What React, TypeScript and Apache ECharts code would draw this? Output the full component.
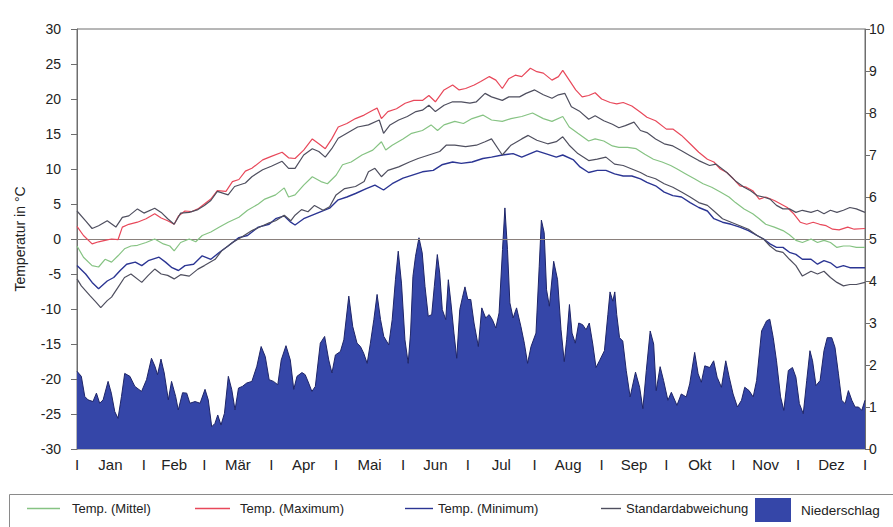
import React, { useEffect, useRef } from "react";
import * as echarts from "echarts";

const months = ["Jan", "Feb", "Mär", "Apr", "Mai", "Jun", "Jul", "Aug", "Sep", "Okt", "Nov", "Dez"];
const monthLengths = [31, 28, 31, 30, 31, 30, 31, 31, 30, 31, 30, 31];
const tempRange = [-30, 30, 5];
const precipRange = [0, 10, 1];

// [day of year, °C]
const tempMean: [number, number][] = [
  [0, -1.0], [3, -2.6], [7, -3.8], [10, -4.0], [13, -2.9], [16, -3.3], [19, -2.4], [22, -1.4], [25, -1.0], [28, -0.9],
  [32, -0.5], [36, 0], [40, -0.7], [43, -1.0], [45, -1.7], [48, -0.5], [52, 0], [55, -0.4], [58, 0.5], [62, 1.0],
  [66, 1.7], [70, 2.4], [75, 3.1], [79, 4.1], [84, 5.0], [87, 5.7], [92, 6.3], [96, 7.3], [98, 6.0], [101, 6.3],
  [105, 7.7], [109, 8.9], [113, 8.2], [116, 7.9], [120, 9.1], [123, 10.6], [127, 11.0], [132, 12.0], [137, 12.7], [141, 13.9],
  [143, 12.7], [146, 13.4], [151, 14.3], [155, 15.1], [160, 15.5], [164, 16.3], [167, 15.5], [170, 16.3], [175, 16.8], [179, 16.5],
  [183, 17.2], [188, 17.7], [192, 17.0], [197, 16.8], [201, 17.2], [206, 17.5], [211, 18.0], [216, 17.2], [220, 16.8], [225, 17.5],
  [228, 16.0], [232, 15.1], [237, 14.0], [240, 14.3], [244, 14.0], [248, 13.3], [251, 13.1], [255, 13.1], [259, 12.9], [263, 12.1],
  [267, 11.4], [271, 11.0], [275, 10.5], [278, 10.0], [282, 9.3], [286, 8.6], [290, 7.9], [294, 7.4], [298, 6.7], [302, 6.0],
  [305, 5.2], [309, 4.3], [313, 3.6], [316, 2.9], [319, 2.1], [323, 1.7], [327, 1.2], [330, 0.6], [333, -0.2], [336, -0.5],
  [340, 0], [343, -0.5], [346, -0.2], [349, -0.5], [352, -1.2], [355, -1.0], [358, -1.0], [361, -1.2], [365, -1.2],
];

const tempMax: [number, number][] = [
  [0, 1.8], [3, 0.5], [7, -0.7], [10, -0.4], [13, -0.2], [16, 0], [19, -0.1], [21, 1.7], [24, 2.1], [28, 2.4],
  [32, 2.9], [36, 3.6], [39, 3.0], [42, 2.6], [45, 2.1], [47, 3.3], [50, 4.0], [53, 3.9], [56, 4.3], [59, 5.0],
  [62, 5.7], [65, 6.9], [69, 6.8], [72, 8.2], [75, 8.5], [78, 9.7], [81, 10.1], [86, 11.3], [90, 11.8], [95, 12.4],
  [98, 11.6], [101, 11.5], [105, 12.7], [109, 14.3], [112, 13.6], [115, 12.9], [118, 14.3], [121, 16.0], [125, 16.5], [129, 17.2],
  [133, 17.7], [137, 18.4], [139, 18.7], [141, 17.2], [144, 18.2], [148, 18.6], [152, 19.4], [156, 19.8], [160, 19.8], [163, 20.5],
  [166, 19.6], [170, 21.3], [174, 22.0], [177, 21.3], [180, 21.5], [184, 22.0], [187, 22.5], [191, 23.2], [194, 22.7], [197, 21.5],
  [200, 22.9], [203, 23.4], [206, 23.2], [210, 24.4], [213, 23.9], [216, 23.7], [220, 22.7], [223, 23.2], [225, 24.1], [228, 22.7],
  [231, 21.3], [234, 20.3], [237, 20.5], [240, 20.9], [243, 20.0], [247, 19.5], [250, 19.3], [253, 19.5], [257, 19.0], [261, 18.1],
  [264, 17.4], [268, 16.9], [273, 15.7], [276, 15.7], [280, 14.8], [284, 13.6], [288, 12.4], [292, 11.4], [295, 11.0], [298, 10.0],
  [301, 9.5], [304, 8.6], [307, 7.6], [310, 7.4], [313, 6.9], [316, 5.7], [319, 6.0], [323, 5.5], [326, 5.0], [329, 4.5],
  [332, 3.6], [335, 2.4], [338, 2.1], [341, 2.4], [344, 2.1], [347, 1.9], [350, 1.4], [353, 1.3], [357, 1.7], [360, 1.4], [365, 1.5],
];

const tempMin: [number, number][] = [
  [0, -3.8], [4, -5.0], [7, -6.2], [10, -7.1], [14, -6.0], [17, -5.5], [20, -4.5], [23, -3.6], [27, -3.3], [30, -3.8],
  [33, -3.1], [38, -2.6], [41, -3.3], [44, -4.1], [47, -4.5], [50, -3.8], [54, -3.6], [58, -2.4], [62, -2.9], [66, -1.9],
  [70, -1.0], [75, 0.2], [79, 0.5], [84, 1.7], [89, 2.1], [92, 2.9], [96, 3.3], [99, 2.4], [101, 2.0], [105, 2.9],
  [109, 3.4], [113, 3.9], [117, 4.4], [121, 5.6], [125, 6.0], [129, 6.5], [134, 7.2], [138, 7.7], [142, 7.0], [146, 7.9],
  [151, 8.7], [155, 9.1], [160, 9.6], [165, 9.8], [169, 10.6], [174, 11.0], [178, 10.8], [183, 11.0], [188, 11.5], [192, 11.7],
  [197, 12.0], [202, 12.2], [206, 11.7], [213, 12.6], [217, 12.2], [222, 11.7], [225, 12.0], [230, 11.3], [233, 10.3], [237, 9.5],
  [241, 9.8], [245, 9.8], [249, 9.3], [253, 9.0], [257, 9.0], [261, 8.6], [264, 8.1], [268, 7.6], [272, 6.7], [276, 6.2],
  [280, 6.0], [284, 5.2], [288, 4.5], [292, 4.0], [295, 2.9], [299, 2.4], [303, 2.1], [307, 1.7], [311, 1.2], [315, 0.5],
  [318, 0], [321, -0.7], [324, -1.2], [327, -1.2], [330, -1.9], [333, -2.2], [336, -2.9], [340, -2.9], [343, -3.6], [346, -3.1],
  [349, -3.4], [352, -4.1], [355, -3.8], [358, -4.1], [361, -4.1], [365, -4.1],
];

const sdUpper: [number, number][] = [
  [0, 4.0], [4, 2.6], [7, 1.5], [10, 1.9], [14, 2.6], [18, 1.7], [21, 3.1], [24, 3.3], [28, 4.3], [31, 3.7],
  [36, 4.4], [39, 3.8], [42, 2.9], [45, 2.1], [48, 3.7], [52, 3.8], [56, 4.2], [59, 4.8], [62, 5.5], [65, 6.8],
  [70, 6.3], [73, 7.5], [78, 8.0], [81, 8.9], [86, 9.9], [90, 10.4], [95, 11.1], [98, 10.1], [101, 10.1], [105, 12.0],
  [109, 12.9], [112, 12.5], [115, 11.7], [118, 12.9], [121, 14.4], [126, 15.3], [130, 16.0], [135, 16.3], [140, 17.0], [142, 15.1],
  [145, 16.3], [149, 17.0], [153, 17.5], [157, 18.2], [160, 18.4], [163, 19.1], [166, 18.2], [170, 19.1], [174, 19.6], [178, 19.6],
  [182, 19.4], [185, 19.6], [189, 20.8], [192, 20.3], [197, 19.8], [200, 20.3], [205, 20.3], [208, 20.8], [212, 21.3], [216, 20.6],
  [220, 20.1], [223, 20.6], [226, 20.8], [229, 18.9], [233, 18.2], [237, 17.1], [240, 17.6], [244, 16.9], [248, 16.4], [251, 15.9],
  [254, 16.2], [258, 16.7], [261, 15.5], [264, 15.2], [268, 14.3], [272, 13.6], [276, 13.3], [280, 12.6], [284, 11.9], [288, 11.2],
  [293, 10.5], [296, 10.7], [301, 9.5], [305, 8.3], [309, 7.4], [312, 6.9], [315, 6.2], [318, 6.0], [321, 5.7], [324, 4.8],
  [327, 4.3], [330, 4.3], [333, 3.8], [336, 4.1], [340, 3.8], [343, 4.1], [346, 3.6], [349, 4.1], [352, 3.8], [355, 4.1],
  [358, 4.5], [361, 4.3], [365, 3.8],
];

const sdLower: [number, number][] = [
  [0, -5.7], [2, -6.7], [6, -8.1], [9, -9.1], [11, -9.8], [14, -8.8], [16, -8.3], [19, -6.9], [22, -5.5], [25, -5.0],
  [30, -6.2], [33, -5.2], [36, -4.3], [39, -5.0], [42, -5.2], [45, -5.7], [48, -5.1], [52, -5.3], [56, -4.3], [59, -3.8],
  [64, -2.9], [67, -1.7], [72, -0.5], [76, 0.2], [81, 1.2], [86, 1.9], [89, 2.3], [92, 2.6], [96, 3.4], [99, 2.6],
  [101, 3.4], [104, 4.2], [107, 3.9], [110, 4.8], [114, 4.1], [117, 4.6], [120, 6.3], [124, 7.2], [129, 7.5], [133, 8.2],
  [135, 9.6], [138, 10.1], [141, 8.9], [144, 9.8], [149, 10.3], [154, 11.0], [158, 11.5], [163, 12.0], [168, 12.5], [171, 13.4],
  [175, 13.4], [180, 13.2], [185, 13.4], [189, 13.9], [192, 14.3], [197, 12.0], [201, 13.4], [206, 14.3], [209, 14.8], [213, 14.1],
  [218, 13.6], [222, 13.9], [225, 14.6], [228, 13.4], [232, 12.2], [237, 11.2], [241, 11.4], [245, 11.7], [249, 10.7], [253, 10.5],
  [257, 10.0], [261, 9.5], [264, 9.0], [268, 8.6], [272, 7.9], [276, 7.4], [280, 6.7], [284, 6.0], [288, 5.2], [292, 4.8],
  [295, 4.0], [299, 2.9], [303, 2.4], [307, 1.9], [311, 1.4], [315, 0.5], [318, 0], [321, -1.0], [324, -1.7], [327, -1.9],
  [330, -2.9], [333, -3.8], [336, -5.3], [340, -4.6], [343, -5.0], [346, -4.6], [349, -5.5], [352, -6.2], [355, -6.7], [358, -6.5],
  [361, -6.5], [365, -6.2],
];

// [day of year, mm]
const precip: [number, number][] = [
  [0, 1.85], [2.0, 1.73], [3.6, 1.25], [5.1, 1.17], [7.4, 1.13], [9.0, 1.33], [10.5, 1.09], [12.1, 1.17], [14.4, 1.61], [15.9, 1.33],
  [17.5, 0.89], [19.0, 0.73], [20.6, 1.25], [22.1, 1.8], [24.5, 1.73], [26.8, 1.49], [29.9, 1.37], [32.2, 1.65], [34.5, 2.16], [36.1, 1.97],
  [37.3, 1.77], [38.9, 2.14], [40.4, 1.81], [42.3, 1.17], [43.8, 1.61], [45.7, 1.25], [46.9, 0.93], [48.9, 1.34], [50.8, 1.33], [52.3, 1.09],
  [54.7, 1.13], [57.0, 1.09], [59.3, 1.42], [60.8, 1.17], [62.4, 0.53], [63.9, 0.61], [65.2, 0.81], [66.7, 0.57], [68.3, 0.85], [70.1, 1.73],
  [71.7, 1.41], [73.2, 0.93], [74.8, 1.45], [76.6, 1.49], [78.6, 1.57], [81.0, 1.61], [83.3, 1.97], [85.3, 2.44], [87.2, 2.2], [89.0, 1.65],
  [91.0, 1.61], [93.0, 1.53], [94.6, 2.12], [96.8, 2.46], [98.8, 2.12], [100.4, 1.42], [101.9, 1.73], [104.2, 1.82], [105.7, 1.77], [107.3, 1.57],
  [108.8, 1.37], [110.4, 1.49], [112.7, 2.52], [114.7, 2.68], [116.6, 2.12], [118.1, 1.81], [119.7, 2.24], [122.0, 2.32], [123.6, 2.6], [125.9, 3.64],
  [127.7, 2.92], [129.7, 2.52], [131.3, 2.44], [132.8, 2.28], [134.4, 2.04], [135.9, 2.52], [137.5, 3.08], [139.0, 3.68], [140.6, 3.08], [142.1, 2.68],
  [144.4, 2.48], [146.0, 3.08], [147.5, 4.03], [148.8, 4.71], [150.3, 3.95], [151.9, 2.6], [153.4, 2.04], [154.5, 2.76], [155.6, 4.11], [156.8, 4.59],
  [158.4, 5.03], [159.9, 4.67], [161.2, 3.87], [162.7, 3.16], [164.3, 3.2], [165.5, 3.87], [166.9, 4.63], [168.0, 4.19], [169.2, 3.32], [170.8, 3.08],
  [172.0, 4.03], [173.2, 3.48], [174.6, 2.76], [175.9, 2.16], [177.3, 3.32], [178.5, 3.6], [179.7, 3.86], [181.0, 3.56], [182.4, 3.56], [183.9, 3.0],
  [185.9, 2.44], [187.5, 3.36], [189.3, 3.12], [190.9, 3.2], [192.4, 3.08], [194.0, 2.88], [195.5, 3.24], [197.1, 4.75], [198.2, 5.74], [199.4, 4.75],
  [200.5, 3.48], [202.0, 3.12], [203.6, 3.36], [205.6, 2.92], [207.2, 2.52], [208.7, 2.04], [210.3, 2.44], [212.6, 2.76], [214.1, 4.35], [215.1, 5.45],
  [216.4, 5.15], [217.5, 3.79], [218.8, 3.4], [220.8, 4.47], [222.6, 4.03], [224.2, 2.84], [225.7, 2.08], [226.8, 2.6], [228.1, 3.44], [229.3, 2.76],
  [230.8, 2.52], [232.4, 3.0], [234.2, 2.96], [235.8, 2.84], [237.3, 3.0], [238.9, 2.5], [240.4, 1.94], [242.0, 2.1], [244.3, 2.34], [245.9, 3.2],
  [246.9, 3.74], [248.2, 3.52], [249.1, 3.74], [250.0, 3.2], [251.3, 2.65], [252.8, 2.57], [254.4, 1.87], [256.2, 1.24], [258.7, 1.83], [260.6, 1.47],
  [262.1, 0.96], [263.7, 1.87], [265.5, 2.81], [267.1, 2.5], [268.3, 1.39], [270.1, 1.96], [271.7, 1.63], [273.7, 1.16], [275.3, 1.35], [277.9, 1.04],
  [279.9, 1.31], [282.2, 1.24], [283.8, 1.55], [286.1, 2.3], [287.7, 1.79], [289.2, 1.59], [290.8, 1.98], [293.1, 1.94], [294.9, 2.1], [296.5, 1.71],
  [298.5, 1.47], [300.5, 2.1], [302.1, 1.71], [303.9, 1.31], [305.9, 1.0], [307.8, 1.16], [309.3, 1.47], [311.3, 1.39], [313.2, 1.24], [314.8, 1.63],
  [317.1, 2.81], [319.4, 3.05], [320.9, 3.09], [322.5, 2.65], [324.0, 2.1], [325.9, 1.24], [327.4, 0.92], [329.5, 1.87], [331.4, 1.94], [333.0, 1.71],
  [334.6, 1.08], [336.4, 0.84], [338.0, 1.63], [339.5, 2.34], [340.7, 2.1], [342.3, 1.51], [344.2, 1.63], [346.0, 2.34], [347.5, 2.65], [349.6, 2.65],
  [351.1, 2.42], [352.7, 1.79], [354.2, 1.16], [355.8, 1.08], [357.3, 1.39], [358.9, 1.16], [360.4, 1.0], [362.0, 1.0], [363.5, 0.92], [365, 1.16],
];

const FONT = "'Liberation Sans', Arial, Helvetica, sans-serif";
const C_MEAN = "#86c383";
const C_MAX = "#e8485a";
const C_MIN = "#2b3593";
const C_SD = "#4f4f5f";
const C_RAIN = "#3546a8";
const C_RAIN_EDGE = "#1e2568";

export default function App() {
  const ref = useRef<HTMLDivElement>(null);

  useEffect(() => {
    if (!ref.current) return;
    const chart = echarts.init(ref.current, undefined, { renderer: "svg" });

    const bounds: number[] = [0];
    monthLengths.forEach((d, i) => bounds.push(bounds[i] + d));
    const mids = months.map((_, i) => (bounds[i] + bounds[i + 1]) / 2);
    const labelMap = new Map<number, string>();
    bounds.forEach((b) => labelMap.set(b, "I"));
    mids.forEach((m, i) => labelMap.set(m, months[i]));
    const labelValues = [...bounds, ...mids].sort((a, b) => a - b);

    const lineSeries = (name: string, data: [number, number][], color: string, width: number) => ({
      name,
      type: "line",
      data,
      yAxisIndex: 0,
      symbol: "none",
      smooth: false,
      color,
      lineStyle: { color, width },
      z: 3,
      silent: true,
    });

    const textStyle = { fontFamily: FONT, fontSize: 13, color: "#222" };
    const lineLegend = (name: string, left: number, width: number, pad: number) => ({
      orient: "horizontal",
      padding: 0,
      left,
      top: 502,
      itemWidth: width,
      itemHeight: 1.4,
      selectedMode: false,
      data: [{ name, icon: "rect" }],
      textStyle: { ...textStyle, padding: [0, 0, 0, pad] },
    });

    chart.setOption({
      animation: false,
      backgroundColor: "#ffffff",
      grid: {
        left: 77,
        right: 28,
        top: 29,
        bottom: 78,
        show: true,
        borderColor: "#6e6e6e",
        borderWidth: 1,
        backgroundColor: "transparent",
      },
      xAxis: {
        type: "value",
        min: 0,
        max: 365,
        splitLine: { show: false },
        axisLine: { show: true, lineStyle: { color: "#6e6e6e" } },
        axisTick: { show: false },
        axisLabel: {
          customValues: labelValues,
          showMinLabel: true,
          showMaxLabel: true,
          margin: 8,
          fontFamily: FONT,
          fontSize: 15,
          color: "#222",
          formatter: (v: number) => labelMap.get(v) ?? "",
        },
      },
      yAxis: [
        {
          type: "value",
          min: tempRange[0],
          max: tempRange[1],
          interval: tempRange[2],
          position: "left",
          name: "Temperatur in °C",
          nameLocation: "middle",
          nameGap: 50,
          nameRotate: 90,
          nameTextStyle: { fontFamily: FONT, fontSize: 14, color: "#222" },
          splitLine: { show: false },
          axisLine: { show: true, lineStyle: { color: "#6e6e6e" } },
          axisTick: { show: true, length: 6, lineStyle: { color: "#6e6e6e" } },
          axisLabel: { margin: 16, fontFamily: FONT, fontSize: 14, color: "#222" },
        },
        {
          type: "value",
          min: precipRange[0],
          max: precipRange[1],
          interval: precipRange[2],
          position: "right",
          splitLine: { show: false },
          axisLine: { show: true, lineStyle: { color: "#6e6e6e" } },
          axisTick: { show: true, length: 5, lineStyle: { color: "#6e6e6e" } },
          axisLabel: { margin: 4, fontFamily: FONT, fontSize: 14, color: "#222" },
        },
      ],
      legend: [
        lineLegend("Temp. (Mittel)", 27, 33, 7),
        lineLegend("Temp. (Maximum)", 195, 35, 5),
        lineLegend("Temp. (Minimum)", 405, 28, 0),
        lineLegend("Standardabweichung", 601, 20, 0),
        {
          orient: "horizontal",
          padding: 0,
          left: 755,
          top: 498,
          itemWidth: 36,
          itemHeight: 24,
          selectedMode: false,
          data: [{ name: "Niederschlag", icon: "rect", itemStyle: { color: C_RAIN, borderWidth: 0 } }],
          textStyle: { ...textStyle, fontSize: 13.5, padding: [0, 0, 0, 5] },
        },
      ],
      graphic: [
        {
          type: "rect",
          silent: true,
          shape: { x: 9.5, y: 494.5, width: 900, height: 60 },
          style: { fill: "none", stroke: "#8a8a8a", lineWidth: 1 },
          z: -1,
        },
      ],
      series: [
        {
          name: "Niederschlag",
          type: "line",
          yAxisIndex: 1,
          data: precip,
          symbol: "none",
          color: C_RAIN,
          lineStyle: { color: C_RAIN_EDGE, width: 1 },
          areaStyle: { color: C_RAIN, opacity: 1 },
          z: 1,
          silent: true,
        },
        {
          ...lineSeries("Temp. (Mittel)", tempMean, C_MEAN, 1.2),
          markLine: {
            silent: true,
            symbol: "none",
            label: { show: false },
            lineStyle: { color: "#8a807c", width: 1, type: "solid" },
            data: [{ yAxis: 0 }],
            z: 2,
          },
        },
        lineSeries("Temp. (Maximum)", tempMax, C_MAX, 1.2),
        lineSeries("Temp. (Minimum)", tempMin, C_MIN, 1.4),
        lineSeries("Standardabweichung", sdUpper, C_SD, 1.2),
        lineSeries("Standardabweichung", sdLower, C_SD, 1.2),
      ],
    });

    return () => chart.dispose();
  }, []);

  return (
    <div
      ref={ref}
      style={{ position: "fixed", left: 0, top: 0, width: 893, height: 527, background: "#fff" }}
    />
  );
}
